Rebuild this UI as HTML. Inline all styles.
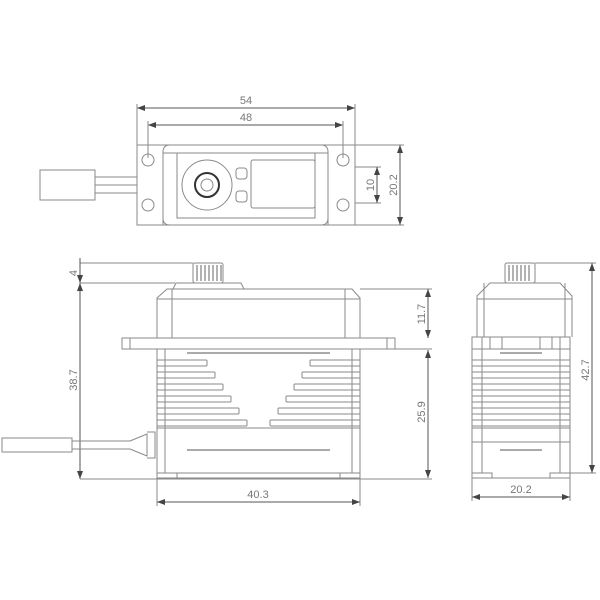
<!DOCTYPE html>
<html><head><meta charset="utf-8"><style>
html,body{margin:0;padding:0;background:#fff;}
svg{display:block}
text{font-family:"Liberation Sans",sans-serif;fill:#777;font-size:11px}
</style></head><body>
<svg width="600" height="600" viewBox="0 0 600 600" xmlns="http://www.w3.org/2000/svg">
<defs>
<marker id="a" markerWidth="8" markerHeight="6" refX="8" refY="3" orient="auto-start-reverse" markerUnits="userSpaceOnUse"><path d="M0,0 L8,3 L0,6z" fill="#444"/></marker>
</defs>
<g fill="none" stroke="#8a8a8a" stroke-width="1">
<!-- TOP VIEW -->
<line x1="137" y1="108" x2="355" y2="108" marker-start="url(#a)" marker-end="url(#a)" stroke="#555"/>
<line x1="148" y1="125" x2="343" y2="125" marker-start="url(#a)" marker-end="url(#a)" stroke="#555"/>
<line x1="137" y1="104" x2="137" y2="145"/>
<line x1="355" y1="104" x2="355" y2="145"/>
<line x1="148" y1="121" x2="148" y2="158"/>
<line x1="343" y1="121" x2="343" y2="158"/>
<path d="M137,145 H355 V225 H137 Z"/>
<circle cx="148" cy="160" r="6"/><circle cx="148" cy="205" r="6"/>
<circle cx="343" cy="160" r="6"/><circle cx="343" cy="205" r="6"/>
<path d="M163,225 V152 Q163,145 170,145 M328,225 V152 Q328,145 321,145 M163,218 Q163,225 170,225 M328,218 Q328,225 321,225"/>
<rect x="177" y="153" width="138" height="65"/>
<line x1="163" y1="153" x2="177" y2="153"/>
<line x1="315" y1="153" x2="328" y2="153"/>
<circle cx="207" cy="185" r="25"/>
<circle cx="207" cy="185" r="12" stroke="#333" stroke-width="2"/>
<circle cx="207" cy="185" r="6"/>
<rect x="236" y="168" width="11" height="11" rx="3"/>
<rect x="236" y="191" width="11" height="11" rx="3"/>
<rect x="251" y="160" width="64" height="48" rx="2"/>
<rect x="40" y="170" width="55" height="30"/>
<line x1="95" y1="177" x2="137" y2="177"/><line x1="95" y1="185" x2="137" y2="185"/><line x1="95" y1="193" x2="137" y2="193"/>
<line x1="355" y1="145" x2="404" y2="145"/><line x1="355" y1="225" x2="404" y2="225"/>
<line x1="400" y1="145" x2="400" y2="225" marker-start="url(#a)" marker-end="url(#a)" stroke="#555"/>
<line x1="355" y1="167" x2="381" y2="167"/><line x1="355" y1="203" x2="381" y2="203"/>
<line x1="377" y1="167" x2="377" y2="203" marker-start="url(#a)" marker-end="url(#a)" stroke="#555"/>

<!-- SIDE VIEW -->
<line x1="80" y1="263" x2="193" y2="263"/>
<line x1="80" y1="283" x2="175" y2="283"/>
<line x1="80" y1="258" x2="80" y2="283" marker-end="url(#a)" stroke="#555"/>
<line x1="80" y1="283" x2="80" y2="479" marker-start="url(#a)" marker-end="url(#a)" stroke="#555"/>
<rect x="193" y="263" width="30" height="20" rx="2"/>
<path d="M197,265 V281 M201,265 V281 M205,265 V281 M209,265 V281 M213,265 V281 M217,265 V281 M221,265 V281" stroke="#666"/>
<path d="M173,289 L176,283 H241 L244,289"/>
<path d="M157,338 V298 L167,289 H352 L360,298 V338"/>
<line x1="157" y1="299" x2="360" y2="299"/>
<line x1="172" y1="289" x2="172" y2="338"/><line x1="345" y1="289" x2="345" y2="338"/>
<rect x="122" y="338" width="273" height="11"/>
<line x1="130" y1="338" x2="130" y2="349"/><line x1="387" y1="338" x2="387" y2="349"/>
<rect x="157" y="349" width="203" height="124"/>
<line x1="165" y1="349" x2="165" y2="473"/><line x1="352" y1="349" x2="352" y2="473"/>
<line x1="187" y1="353" x2="330" y2="353" stroke="#555"/>
<line x1="187" y1="450" x2="330" y2="450" stroke="#555"/>
<line x1="157" y1="428" x2="360" y2="428"/>
<g>
<rect x="157" y="360" width="50" height="6" rx="1"/><rect x="157" y="372" width="58" height="6" rx="1"/><rect x="157" y="384" width="66" height="6" rx="1"/><rect x="157" y="396" width="74" height="6" rx="1"/><rect x="157" y="408" width="82" height="6" rx="1"/><rect x="157" y="420" width="90" height="6" rx="1"/>
<rect x="310" y="360" width="50" height="6" rx="1"/><rect x="302" y="372" width="58" height="6" rx="1"/><rect x="294" y="384" width="66" height="6" rx="1"/><rect x="286" y="396" width="74" height="6" rx="1"/><rect x="278" y="408" width="82" height="6" rx="1"/><rect x="270" y="420" width="90" height="6" rx="1"/>
</g>
<rect x="157" y="473" width="20" height="5"/><rect x="340" y="473" width="20" height="5"/>
<line x1="157" y1="478" x2="360" y2="478"/>
<rect x="2" y="438" width="70" height="14"/>
<line x1="72" y1="441" x2="130" y2="441"/><line x1="72" y1="449" x2="130" y2="449"/>
<path d="M130,441 L147,434 V456 L130,449 M147,432 H155 V458 H147"/>
<line x1="360" y1="289" x2="432" y2="289"/><line x1="395" y1="349" x2="432" y2="349"/>
<line x1="80" y1="479" x2="432" y2="479"/>
<line x1="428" y1="289" x2="428" y2="338" marker-start="url(#a)" marker-end="url(#a)" stroke="#555"/>
<line x1="428" y1="350" x2="428" y2="478" marker-start="url(#a)" marker-end="url(#a)" stroke="#555"/>
<line x1="157" y1="478" x2="157" y2="506"/><line x1="360" y1="478" x2="360" y2="506"/>
<line x1="157" y1="502" x2="360" y2="502" marker-start="url(#a)" marker-end="url(#a)" stroke="#555"/>

<!-- FRONT VIEW -->
<rect x="505" y="263" width="30" height="20" rx="2"/>
<path d="M509,265 V281 M513,265 V281 M517,265 V281 M521,265 V281 M525,265 V281 M529,265 V281" stroke="#666"/>
<path d="M477,337 V296 L490,283 H560 L572,296 V337"/>
<line x1="477" y1="299" x2="572" y2="299"/>
<line x1="484" y1="283" x2="484" y2="337"/><line x1="565" y1="283" x2="565" y2="337"/>
<rect x="472" y="337" width="98" height="141"/>
<line x1="472" y1="349" x2="570" y2="349"/>
<line x1="490" y1="337" x2="490" y2="349"/><line x1="502" y1="337" x2="502" y2="349"/><line x1="540" y1="337" x2="540" y2="349"/><line x1="552" y1="337" x2="552" y2="349"/>
<line x1="482" y1="337" x2="482" y2="473"/><line x1="560" y1="337" x2="560" y2="473"/>
<line x1="500" y1="353" x2="542" y2="353" stroke="#555"/>
<line x1="500" y1="450" x2="542" y2="450" stroke="#555"/>
<g>
<rect x="472" y="360" width="98" height="6"/><rect x="472" y="372" width="98" height="6"/><rect x="472" y="384" width="98" height="6"/><rect x="472" y="396" width="98" height="6"/><rect x="472" y="408" width="98" height="6"/><rect x="472" y="420" width="98" height="6"/>
</g>
<line x1="472" y1="428" x2="570" y2="428"/>
<line x1="472" y1="442" x2="570" y2="442"/>
<rect x="472" y="473" width="20" height="5"/><rect x="550" y="473" width="20" height="5"/>
<line x1="535" y1="263" x2="596" y2="263"/><line x1="570" y1="473" x2="596" y2="473"/>
<line x1="592" y1="263" x2="592" y2="473" marker-start="url(#a)" marker-end="url(#a)" stroke="#555"/>
<line x1="472" y1="478" x2="472" y2="501"/><line x1="570" y1="478" x2="570" y2="501"/>
<line x1="472" y1="497" x2="570" y2="497" marker-start="url(#a)" marker-end="url(#a)" stroke="#555"/>
</g>
<text x="246" y="104" text-anchor="middle">54</text>
<text x="246" y="121" text-anchor="middle">48</text>
<text transform="translate(397,185) rotate(-90)" text-anchor="middle">20.2</text>
<text transform="translate(374,185) rotate(-90)" text-anchor="middle">10</text>
<text transform="translate(77,273) rotate(-90)" text-anchor="middle">4</text>
<text transform="translate(77,380) rotate(-90)" text-anchor="middle">38.7</text>
<text transform="translate(425,314) rotate(-90)" text-anchor="middle">11.7</text>
<text transform="translate(425,412) rotate(-90)" text-anchor="middle">25.9</text>
<text x="258" y="498" text-anchor="middle">40.3</text>
<text transform="translate(589,370) rotate(-90)" text-anchor="middle">42.7</text>
<text x="521" y="493" text-anchor="middle">20.2</text>
</svg>
</body></html>
